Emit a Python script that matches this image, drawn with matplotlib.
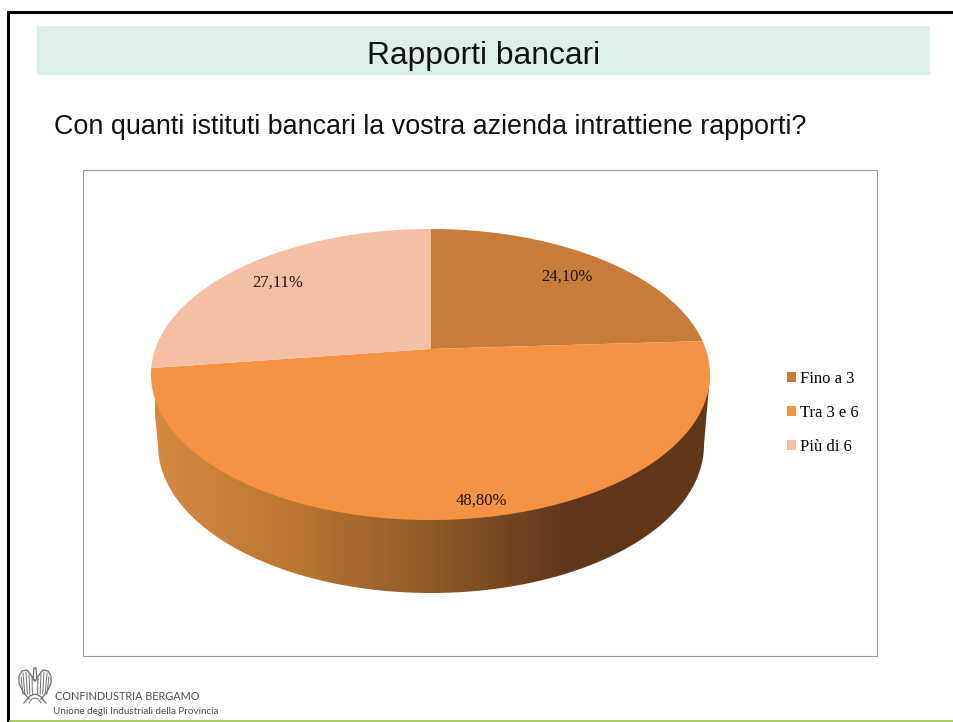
#!/usr/bin/env python3
"""Slide with a 3D-look pie chart: Rapporti bancari."""
import numpy as np
import matplotlib
matplotlib.use("Agg")
import matplotlib.pyplot as plt
from matplotlib.colors import LinearSegmentedColormap
from matplotlib.patches import Rectangle

TITLE = "Rapporti bancari"
QUESTION = "Con quanti istituti bancari la vostra azienda intrattiene rapporti?"
CATEGORIES = ["Fino a 3", "Tra 3 e 6", "Più di 6"]
VALUES = [24.10, 48.80, 27.11]
COLORS = ["#C77C3B", "#F59344", "#F5BFA4"]
LABEL_POS = [(567, 277), (481, 501), (278, 283)]

W, H = 954, 722
CX, CY, KX, PERSP, PY = 430.5, 349.0, 275.2, 0.1753, -79.9
LABEL_FONT = "Liberation Serif"
LOGO = "#6E6E6E"


def project(theta):
    # circle seen in perspective, the slice centre sits above the middle of the ellipse
    u, v = np.cos(theta), np.sin(theta)
    d = 1 + PERSP * v
    return CX + KX * u / d, (CY + PY * v) / d


fig = plt.figure(figsize=(W / 100, H / 100), dpi=100)
ax = fig.add_axes([0, 0, 1, 1])
ax.set_xlim(0, W)
ax.set_ylim(H, 0)
ax.axis("off")

# slide furniture
ax.plot([8.5, 8.5, W], [H, 12, 12], color="black", lw=2.2, solid_joinstyle="miter")
ax.plot([10, W], [720.5, 720.5], color="#A9C760", lw=2)
ax.add_patch(Rectangle((37, 26), 893, 49, fc="#DCF0E8", ec="none"))
ax.text(484, 56, TITLE, ha="center", va="center", fontsize=22.9,
        family="Liberation Sans", color="#111111")
ax.text(54, 127, QUESTION, ha="left", va="center", fontsize=19.35,
        family="Liberation Sans", color="#111111")
ax.add_patch(Rectangle((83, 170), 794, 486, fc="white", ec="#9A9A9A", lw=0.8))

# side wall of the pie, gradient clipped to its outline
t = np.linspace(0, 2 * np.pi, 721)
xs, ys = project(t)
left, right = xs.argmin(), xs.argmax()
front = np.linspace(np.pi, 2 * np.pi, 300)
bx = 431 + 273 * np.cos(front)
by = 445 - 148 * np.sin(front)
outline_x = np.r_[xs[left], bx[0], bx, bx[-1], xs[right]]
outline_y = np.r_[ys[left], 445, by, 445, ys[right]]
side = ax.fill(outline_x, outline_y, color="none")[0]
cmap = LinearSegmentedColormap.from_list(
    "wall", [(0, "#D58A42"), (0.27, "#B87432"), (0.5, "#8F5928"), (0.74, "#603719"), (1, "#603719")])
img = ax.imshow(np.linspace(0, 1, 256)[None, :], cmap=cmap, aspect="auto",
                extent=(155, 711, 600, 340), zorder=2)
img.set_clip_path(side)
ax.set_xlim(0, W)
ax.set_ylim(H, 0)

# top face
start = np.pi / 2
for val, col, cat, pos in zip(VALUES, COLORS, CATEGORIES, LABEL_POS):
    sweep = val / sum(VALUES) * 2 * np.pi
    th = np.linspace(start, start - sweep, 200)
    px, py = project(th)
    ax.fill(np.r_[CX, px], np.r_[CY, py], color=col, lw=0, zorder=3, label=cat)
    ax.text(pos[0], pos[1], f"{val:.2f}%".replace(".", ","), ha="center", va="center",
            fontsize=12, family=LABEL_FONT, color="#1A1208", zorder=4)
    start -= sweep

ax.legend(loc="center left", bbox_to_anchor=(772, 413), bbox_transform=ax.transData,
          frameon=False, handlelength=0.55, handleheight=0.55, handletextpad=0.25,
          labelspacing=1.1, prop={"family": LABEL_FONT, "size": 12})

# logo, a rough eagle and the two text lines
wing = np.array([(35, 681), (31, 675), (27, 670), (22, 671), (19, 676), (19, 683), (23, 692), (29, 699)])
for sign in (-1, 1):
    ax.plot(35 + sign * (35 - wing[:, 0]), wing[:, 1], color=LOGO, lw=0.9)
    for dx, y0 in ((3, 678), (6, 674), (9, 672), (12, 673), (14, 677)):
        ax.plot([35 + sign * dx, 35 + sign * dx * 0.85], [y0, 694], color=LOGO, lw=0.7)
ax.plot([33, 34, 36, 37], [680, 668, 668, 680], color=LOGO, lw=0.9)
ax.plot([24, 30, 35, 40, 46], [703, 696, 694, 696, 703], color=LOGO, lw=0.9)
ax.plot([29, 32, 35, 38, 41], [703, 699, 698, 699, 703], color=LOGO, lw=0.7)
ax.text(55, 697, "CONFINDUSTRIA BERGAMO", ha="left", va="center", fontsize=7.85,
        family="Lato", color="#4D4D4D")
ax.text(53, 711, "Unione degli Industriali della Provincia", ha="left", va="center",
        fontsize=7.1, family="Lato", color="#4D4D4D")

fig.savefig("out.png", dpi=100)
